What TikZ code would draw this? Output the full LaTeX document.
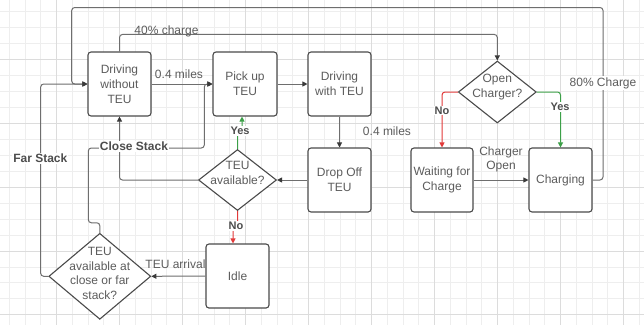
\documentclass[tikz,border=0pt]{standalone}
\usepackage{fontspec}
\setmainfont{Liberation Sans}
\usetikzlibrary{shapes.geometric,arrows.meta}
\definecolor{boxc}{HTML}{4A4A4A}
\definecolor{txtc}{HTML}{5C5C5C}
\definecolor{lblc}{HTML}{4D4D4D}
\definecolor{linec}{HTML}{6E6E6E}
\definecolor{tipc}{HTML}{3A3A3A}
\definecolor{redc}{HTML}{E23A3A}
\definecolor{greenc}{HTML}{3CA048}
\definecolor{gridl}{HTML}{EEEEEE}
\definecolor{gridd}{HTML}{DCDCDC}
\begin{document}
\begin{tikzpicture}[x=1pt,y=-1pt,
 stepbox/.style={draw=boxc, fill=white, line width=1.1pt, rounded corners=3pt, minimum width=63pt, minimum height=64pt, inner sep=0pt, align=center, text=txtc, font=\fontsize{12}{15}\selectfont},
 dia/.style={diamond, draw=boxc, fill=white, line width=1.1pt, inner sep=0pt},
 diatext/.style={align=center, text=txtc, font=\fontsize{12}{14.7}\selectfont, inner sep=0pt},
 conn/.style={draw=linec, line width=1pt, rounded corners=3pt, -{Triangle[length=5pt,width=5pt,color=tipc]}},
 rconn/.style={draw=redc, line width=1pt, rounded corners=3pt, -{Triangle[length=5pt,width=5pt]}},
 gconn/.style={draw=greenc, line width=1pt, rounded corners=3pt, -{Triangle[length=5pt,width=5pt]}},
 lbl/.style={text=txtc, font=\fontsize{12}{14}\selectfont, inner sep=0pt, align=center},
 blbl/.style={text=lblc, font=\bfseries\fontsize{12}{14}\selectfont, fill=white, inner sep=1pt},
 ynl/.style={text=lblc, font=\bfseries\fontsize{11}{13}\selectfont, fill=white, inner sep=1pt},
 gl/.style={draw=gridl, line width=0.8pt},
 gd/.style={draw=gridd, line width=0.8pt}
]
\useasboundingbox (0,0) rectangle (644,325);
\fill[white] (0,0) rectangle (644,325);
% grid
\foreach \k in {0,...,40} {\draw[gl] ({9.3+15.75*\k},0) -- ({9.3+15.75*\k},325);}
\foreach \k in {0,...,19} {\draw[gl] (0,{11.7+15.95*\k}) -- (644,{11.7+15.95*\k});}
\foreach \k in {3,7,...,39} {\draw[gd] ({9.3+15.75*\k},0) -- ({9.3+15.75*\k},325);}
\foreach \k in {3,7,...,19} {\draw[gd] (0,{11.7+15.95*\k}) -- (644,{11.7+15.95*\k});}

% nodes
\node[stepbox] (dwo) at (119.5,84) {Driving\\without\\TEU};
\node[stepbox, minimum width=64pt] (pick) at (245,84) {Pick up\\TEU};
\node[stepbox] (dwt) at (339.5,84) {Driving\\with TEU};
\node[stepbox] (drop) at (339.5,180) {Drop Off\\TEU};
\node[stepbox, minimum width=62pt] (wait) at (442,180) {Waiting for\\Charge};
\node[stepbox] (chg) at (560.5,180) {Charging};
\node[stepbox] (idle) at (237.5,276) {Idle};
\node[dia, minimum width=78pt, minimum height=61pt, label={[diatext, yshift=7pt]center:{TEU\\available?}}] (avail) at (237.5,180) {};
\node[dia, minimum width=78pt, minimum height=62pt, label={[diatext, yshift=5pt]center:{Open\\Charger?}}] (open) at (497.3,92) {};
\node[dia, minimum width=102pt, minimum height=86pt, label={[diatext, yshift=3pt]center:{TEU\\available at\\close or far\\stack?}}] (stack) at (99.8,276.3) {};

% connectors
\draw[conn] (dwo.east) -- (pick.west);
\draw[conn] (stack.north) -- ++(0,-10) -| (88.3,148) -| (204.3,84) -- (pick.west);
\draw[conn] (avail.west) -| (dwo.south);
\draw[conn] (pick.east) -- (dwt.west);
\draw[conn] (dwt.south) -- (drop.north);
\draw[conn] (drop.west) -- (avail.east);
\draw[gconn] (avail.north) -- ++(0,-18) -| ([xshift=-3pt]pick.south);
\draw[rconn] (avail.south) -- ++(0,14) -| ([xshift=-4.5pt]idle.north);
\draw[conn] (idle.west) -- (stack.east);
\draw[conn] (stack.west) -| (40.7,84) -- (dwo.west);
\draw[conn] (chg.east) -| (603,7.5) -| (71.7,84) -- (dwo.west);
\draw[conn] (dwo.north) -- ++(0,-17) -| (open.north);
\draw[rconn] (open.west) -| (wait.north);
\draw[gconn] (open.east) -| (chg.north);
\draw[conn] (wait.east) -- (chg.west);

% labels
\node[lbl, anchor=base] (l1) at (179,78.5) {0.4 miles};
\node[lbl, anchor=base] (l2) at (166.5,34) {40\% charge};
\node[lbl, anchor=base] (l3) at (387,135.5) {0.4 miles};
\node[lbl, anchor=base] (l4) at (175.5,268) {TEU arrival};
\node[lbl, fill=white, inner sep=1pt] (l5) at (603,83) {80\% Charge};
\node[lbl] (l6) at (501,159) {Charger\\Open};
\node[blbl] (l7) at (134,146.7) {Close Stack};
\node[blbl] (l8) at (40.3,158.5) {Far Stack};
\node[ynl] (l9) at (240,131) {Yes};
\node[ynl] (l10) at (236,225.7) {No};
\node[ynl] (l11) at (442,110.5) {No};
\node[ynl] (l12) at (560,106.8) {Yes};
\end{tikzpicture}
\end{document}
